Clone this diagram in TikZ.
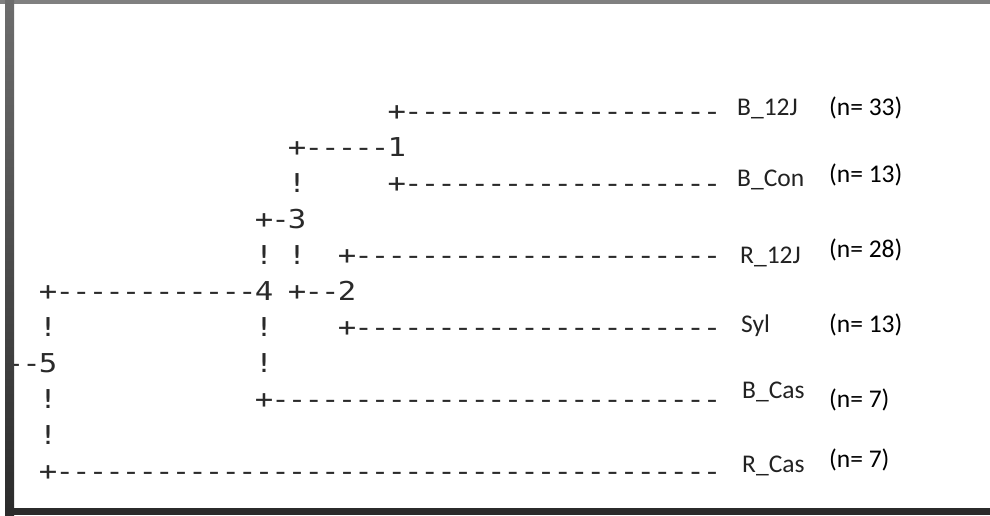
\documentclass[tikz,border=0pt]{standalone}
\usepackage{fontspec}
\setmainfont{Carlito}
\newfontfamily\asciifont[FakeStretch=1.18]{DejaVu Sans Mono}
\newlength\cw
\setlength\cw{16.6pt}
\def\mrow#1{\mrowloop#1\relax}
\def\mrowloop#1{\ifx#1\relax\else\makebox[\cw]{#1}\expandafter\mrowloop\fi}
\definecolor{asc}{HTML}{2A2A2A}
\definecolor{lbl}{HTML}{222222}
\definecolor{bartop}{HTML}{808080}
\definecolor{bardark}{HTML}{2B2B2B}
\tikzset{
  asc/.style={inner sep=0pt, anchor=base west, text=asc,
    font=\asciifont\fontsize{26}{26}\selectfont},
  leaf/.style={inner sep=0pt, anchor=base west, text=lbl,
    font=\fontsize{25.5}{25.5}\selectfont},
  count/.style={inner sep=0pt, anchor=base west, text=black,
    font=\fontsize{25.5}{25.5}\selectfont}
}
\begin{document}
\begin{tikzpicture}[x=1pt,y=-1pt]
\useasboundingbox (0,0) rectangle (990,515);
\fill[white] (0,0) rectangle (990,515);
% column c -> x = 39.7 + 16.6 c ; row i -> baseline = 120 + 36 i
\node[asc] (r0a) at ({39.7+16.6*21},120) {\mrow{+-------------------}};
\node[asc] (r1a) at ({39.7+16.6*15},156) {\mrow{+-----1}};
\node[asc] (r2a) at ({39.7+16.6*15},192) {\mrow{!}};
\node[asc] (r2b) at ({39.7+16.6*21},192) {\mrow{+-------------------}};
\node[asc] (r3a) at ({39.7+16.6*13},228) {\mrow{+-3}};
\node[asc] (r4a) at ({39.7+16.6*13},264) {\mrow{!}};
\node[asc] (r4b) at ({39.7+16.6*15},264) {\mrow{!}};
\node[asc] (r4c) at ({39.7+16.6*18},264) {\mrow{+----------------------}};
\node[asc] (r5a) at ({39.7+16.6*0},300) {\mrow{+------------4}};
\node[asc] (r5b) at ({39.7+16.6*15},300) {\mrow{+--2}};
\node[asc] (r6a) at ({39.7+16.6*0},336) {\mrow{!}};
\node[asc] (r6b) at ({39.7+16.6*13},336) {\mrow{!}};
\node[asc] (r6c) at ({39.7+16.6*18},336) {\mrow{+----------------------}};
\node[asc] (r7a) at ({39.7-16.6*2},372) {\mrow{--5}};
\node[asc] (r7b) at ({39.7+16.6*13},372) {\mrow{!}};
\node[asc] (r8a) at ({39.7+16.6*0},408) {\mrow{!}};
\node[asc] (r8b) at ({39.7+16.6*13},408) {\mrow{+---------------------------}};
\node[asc] (r9a) at ({39.7+16.6*0},444) {\mrow{!}};
\node[asc] (r10a) at ({39.7+16.6*0},480) {\mrow{+----------------------------------------}};
% leaf labels
\node[leaf] (l1) at (737,115) {B\_12J};
\node[leaf] (l2) at (737,186) {B\_Con};
\node[leaf] (l3) at (740,263) {R\_12J};
\node[leaf] (l4) at (741,332) {Syl};
\node[leaf] (l5) at (742,398) {B\_Cas};
\node[leaf] (l6) at (742,472) {R\_Cas};
\node[count] (n1) at (829,115) {(n= 33)};
\node[count] (n2) at (829,182) {(n= 13)};
\node[count] (n3) at (829,257) {(n= 28)};
\node[count] (n4) at (829,332) {(n= 13)};
\node[count] (n5) at (829,407) {(n= 7)};
\node[count] (n6) at (829,467) {(n= 7)};
% frame
\fill[bartop] (0,0) rectangle (990,4);
\shade[top color=bartop!85!black, bottom color=bardark] (5,0) rectangle (14,515);
\fill[bardark] (5,508) rectangle (990,515);
\end{tikzpicture}
\end{document}
